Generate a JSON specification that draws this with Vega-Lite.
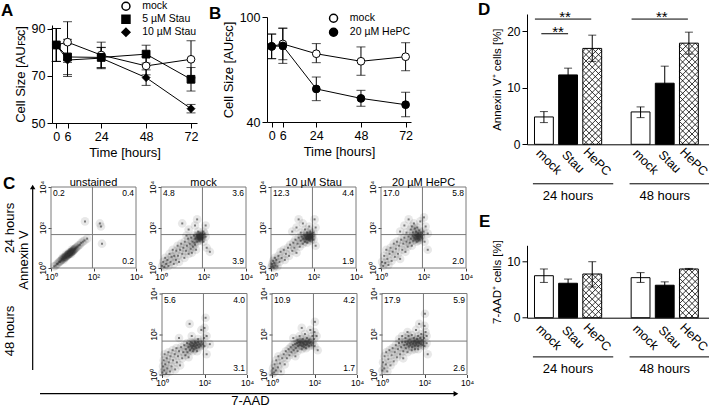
{
"$schema":"https://vega.github.io/schema/vega-lite/v6.json",
"background":"white",
"padding":0,
"spacing":4,
"resolve":{"scale":{"shape":"independent","fill":"independent"},"legend":{"shape":"independent","fill":"independent"}},
"datasets":{
"growthA":[
{"t":0,"s":"mock","v":83.2,"lo":76.2,"hi":90.2},{"t":6,"s":"mock","v":84.4,"lo":75.8,"hi":93.1},{"t":24,"s":"mock","v":78.9,"lo":73.4,"hi":84.4},{"t":48,"s":"mock","v":74.3,"lo":70.5,"hi":78.2},{"t":72,"s":"mock","v":77.1,"lo":69.2,"hi":85.0},
{"t":0,"s":"5 µM Stau","v":83.2,"lo":76.2,"hi":90.2},{"t":6,"s":"5 µM Stau","v":78.1,"lo":70.6,"hi":85.6},{"t":24,"s":"5 µM Stau","v":77.9,"lo":73.6,"hi":82.2},{"t":48,"s":"5 µM Stau","v":79.3,"lo":75.5,"hi":83.1},{"t":72,"s":"5 µM Stau","v":68.6,"lo":63.6,"hi":73.6},
{"t":0,"s":"10 µM Stau","v":83.2,"lo":76.2,"hi":90.2},{"t":6,"s":"10 µM Stau","v":76.8,"lo":69.8,"hi":83.6},{"t":24,"s":"10 µM Stau","v":77.6,"lo":73.1,"hi":82.1},{"t":48,"s":"10 µM Stau","v":69.3,"lo":66.0,"hi":72.6},{"t":72,"s":"10 µM Stau","v":56.1,"lo":54.3,"hi":57.9}],
"growthB":[
{"t":0,"s":"mock","v":83.2,"lo":76.2,"hi":90.3},{"t":6,"s":"mock","v":84.6,"lo":75.6,"hi":93.7},{"t":24,"s":"mock","v":79.0,"lo":73.9,"hi":84.8},{"t":48,"s":"mock","v":74.7,"lo":66.7,"hi":82.9},{"t":72,"s":"mock","v":77.3,"lo":69.3,"hi":85.3},
{"t":0,"s":"20 µM HePC","v":83.2,"lo":76.2,"hi":90.2},{"t":6,"s":"20 µM HePC","v":83.5,"lo":73.5,"hi":93.5},{"t":24,"s":"20 µM HePC","v":58.9,"lo":52.2,"hi":65.7},{"t":48,"s":"20 µM HePC","v":53.5,"lo":49.0,"hi":58.1},{"t":72,"s":"20 µM HePC","v":49.9,"lo":43.0,"hi":57.0}],
"annexin":[
{"cat":"24 hours|mock","treat":"mock","v":4.85,"lo":3.85,"hi":5.8},
{"cat":"24 hours|Stau","treat":"Stau","v":12.3,"lo":11.1,"hi":13.5},
{"cat":"24 hours|HePC","treat":"HePC","v":17.0,"lo":14.7,"hi":19.35},
{"cat":"48 hours|mock","treat":"mock","v":5.74,"lo":4.73,"hi":6.63},
{"cat":"48 hours|Stau","treat":"Stau","v":10.83,"lo":7.8,"hi":13.85},
{"cat":"48 hours|HePC","treat":"HePC","v":17.93,"lo":15.98,"hi":19.88}],
"aad":[
{"cat":"24 hours|mock","treat":"mock","v":7.5,"lo":6.3,"hi":8.7},
{"cat":"24 hours|Stau","treat":"Stau","v":6.15,"lo":5.4,"hi":6.9},
{"cat":"24 hours|HePC","treat":"HePC","v":7.8,"lo":5.5,"hi":10.0},
{"cat":"48 hours|mock","treat":"mock","v":7.15,"lo":6.3,"hi":8.05},
{"cat":"48 hours|Stau","treat":"Stau","v":5.8,"lo":5.2,"hi":6.4},
{"cat":"48 hours|HePC","treat":"HePC","v":8.7,"lo":8.6,"hi":8.8}],
"groups":[{"group":"24 hours","from":"24 hours|mock","to":"24 hours|HePC","mid":"24 hours|Stau"},{"group":"48 hours","from":"48 hours|mock","to":"48 hours|HePC","mid":"48 hours|Stau"}],
"sigTop":[{"from":"24 hours|mock","to":"24 hours|HePC","mid":"24 hours|Stau","label":"**"},{"from":"48 hours|mock","to":"48 hours|HePC","mid":"48 hours|Stau","label":"**"}],
"sigLow":[{"from":"24 hours|mock","to":"24 hours|Stau","label":"**"}],
"flow":[
{"k":"U24","q":"UL","v":"0.2","c":"unstained"},{"k":"U24","q":"UR","v":"0.4"},{"k":"U24","q":"LR","v":"0.2"},
{"k":"M24","q":"UL","v":"4.8","c":"mock"},{"k":"M24","q":"UR","v":"3.6"},{"k":"M24","q":"LR","v":"3.9"},
{"k":"S24","q":"UL","v":"12.3","c":"10 µM Stau"},{"k":"S24","q":"UR","v":"4.4"},{"k":"S24","q":"LR","v":"1.9"},
{"k":"H24","q":"UL","v":"17.0","c":"20 µM HePC"},{"k":"H24","q":"UR","v":"5.8"},{"k":"H24","q":"LR","v":"2.0"},
{"k":"M48","q":"UL","v":"5.6","c":"mock"},{"k":"M48","q":"UR","v":"4.0"},{"k":"M48","q":"LR","v":"3.1"},
{"k":"S48","q":"UL","v":"10.9","c":"10 µM Stau"},{"k":"S48","q":"UR","v":"4.2"},{"k":"S48","q":"LR","v":"1.7"},
{"k":"H48","q":"UL","v":"17.9","c":"20 µM HePC"},{"k":"H48","q":"UR","v":"5.9"},{"k":"H48","q":"LR","v":"2.6"},
{"k":"U24","x":0.15,"y":0.08},{"k":"U24","x":0.22,"y":0.12},{"k":"U24","x":0.28,"y":0.2},{"k":"U24","x":0.33,"y":0.22},{"k":"U24","x":0.38,"y":0.3},{"k":"U24","x":0.42,"y":0.3},{"k":"U24","x":0.45,"y":0.36},{"k":"U24","x":0.5,"y":0.38},{"k":"U24","x":0.52,"y":0.44},{"k":"U24","x":0.56,"y":0.45},{"k":"U24","x":0.6,"y":0.48},{"k":"U24","x":0.62,"y":0.52},{"k":"U24","x":0.65,"y":0.5},{"k":"U24","x":0.67,"y":0.56},{"k":"U24","x":0.7,"y":0.58},{"k":"U24","x":0.72,"y":0.55},{"k":"U24","x":0.74,"y":0.62},{"k":"U24","x":0.76,"y":0.6},{"k":"U24","x":0.78,"y":0.66},{"k":"U24","x":0.8,"y":0.64},{"k":"U24","x":0.82,"y":0.68},{"k":"U24","x":0.84,"y":0.7},{"k":"U24","x":0.86,"y":0.68},{"k":"U24","x":0.88,"y":0.74},{"k":"U24","x":0.9,"y":0.72},{"k":"U24","x":0.92,"y":0.78},{"k":"U24","x":0.94,"y":0.76},{"k":"U24","x":0.96,"y":0.8},{"k":"U24","x":0.98,"y":0.82},{"k":"U24","x":1.0,"y":0.8},{"k":"U24","x":1.02,"y":0.86},{"k":"U24","x":1.04,"y":0.84},{"k":"U24","x":1.06,"y":0.9},{"k":"U24","x":1.08,"y":0.88},{"k":"U24","x":1.1,"y":0.93},{"k":"U24","x":1.13,"y":0.95},{"k":"U24","x":1.16,"y":0.98},{"k":"U24","x":1.2,"y":1.02},{"k":"U24","x":1.25,"y":1.06},{"k":"U24","x":1.3,"y":1.12},{"k":"U24","x":1.36,"y":1.15},{"k":"U24","x":1.42,"y":1.24},{"k":"U24","x":1.5,"y":1.3},{"k":"U24","x":1.58,"y":1.36},{"k":"U24","x":0.55,"y":0.52},{"k":"U24","x":0.7,"y":0.66},{"k":"U24","x":0.85,"y":0.78},{"k":"U24","x":1.0,"y":0.92},{"k":"U24","x":0.6,"y":0.4},{"k":"U24","x":0.95,"y":0.7},{"k":"U24","x":1.6,"y":2.3},{"k":"U24","x":2.3,"y":2.2},{"k":"U24","x":2.35,"y":2.05},{"k":"U24","x":2.4,"y":1.2},{"k":"U24","x":1.7,"y":1.45},
{"k":"M24","x":0.05,"y":0.1},{"k":"M24","x":0.1,"y":0.3},{"k":"M24","x":0.15,"y":0.05},{"k":"M24","x":0.2,"y":0.5},{"k":"M24","x":0.25,"y":0.2},{"k":"M24","x":0.3,"y":0.4},{"k":"M24","x":0.35,"y":0.1},{"k":"M24","x":0.4,"y":0.7},{"k":"M24","x":0.45,"y":0.3},{"k":"M24","x":0.5,"y":0.55},{"k":"M24","x":0.55,"y":0.9},{"k":"M24","x":0.6,"y":0.2},{"k":"M24","x":0.62,"y":0.6},{"k":"M24","x":0.7,"y":0.4},{"k":"M24","x":0.72,"y":0.85},{"k":"M24","x":0.78,"y":1.1},{"k":"M24","x":0.8,"y":0.6},{"k":"M24","x":0.85,"y":0.3},{"k":"M24","x":0.9,"y":0.9},{"k":"M24","x":0.95,"y":1.2},{"k":"M24","x":1.0,"y":0.7},{"k":"M24","x":1.05,"y":1.0},{"k":"M24","x":1.1,"y":0.5},{"k":"M24","x":1.12,"y":1.3},{"k":"M24","x":1.18,"y":0.85},{"k":"M24","x":1.22,"y":1.1},{"k":"M24","x":1.28,"y":1.45},{"k":"M24","x":1.3,"y":0.7},{"k":"M24","x":1.35,"y":1.2},{"k":"M24","x":1.4,"y":0.95},{"k":"M24","x":1.42,"y":1.5},{"k":"M24","x":1.48,"y":1.3},{"k":"M24","x":1.5,"y":1.05},{"k":"M24","x":1.55,"y":1.6},{"k":"M24","x":1.58,"y":1.25},{"k":"M24","x":1.62,"y":1.45},{"k":"M24","x":1.65,"y":0.9},{"k":"M24","x":1.68,"y":1.55},{"k":"M24","x":1.7,"y":1.3},{"k":"M24","x":1.72,"y":1.62},{"k":"M24","x":1.75,"y":1.45},{"k":"M24","x":1.78,"y":1.55},{"k":"M24","x":1.8,"y":1.35},{"k":"M24","x":1.82,"y":1.6},{"k":"M24","x":1.84,"y":1.5},{"k":"M24","x":1.86,"y":1.64},{"k":"M24","x":1.87,"y":1.42},{"k":"M24","x":1.88,"y":1.58},{"k":"M24","x":1.9,"y":1.52},{"k":"M24","x":1.91,"y":1.62},{"k":"M24","x":1.92,"y":1.45},{"k":"M24","x":1.93,"y":1.56},{"k":"M24","x":1.85,"y":1.56},{"k":"M24","x":1.8,"y":1.48},{"k":"M24","x":1.76,"y":1.6},{"k":"M24","x":1.6,"y":1.15},{"k":"M24","x":1.45,"y":0.75},{"k":"M24","x":1.2,"y":1.6},{"k":"M24","x":1.3,"y":1.9},{"k":"M24","x":1.6,"y":2.1},{"k":"M24","x":1.75,"y":1.8},{"k":"M24","x":1.0,"y":2.2},{"k":"M24","x":1.7,"y":2.4},{"k":"M24","x":2.0,"y":1.8},{"k":"M24","x":2.1,"y":2.1},{"k":"M24","x":2.05,"y":1.7},{"k":"M24","x":2.0,"y":1.3},{"k":"M24","x":2.15,"y":1.0},{"k":"M24","x":2.1,"y":1.55},{"k":"M24","x":2.3,"y":0.8},
{"k":"S24","x":0.02,"y":0.05},{"k":"S24","x":0.05,"y":0.2},{"k":"S24","x":0.08,"y":0.1},{"k":"S24","x":0.1,"y":0.35},{"k":"S24","x":0.12,"y":0.02},{"k":"S24","x":0.15,"y":0.25},{"k":"S24","x":0.18,"y":0.5},{"k":"S24","x":0.2,"y":0.12},{"k":"S24","x":0.25,"y":0.4},{"k":"S24","x":0.3,"y":0.08},{"k":"S24","x":0.35,"y":0.6},{"k":"S24","x":0.4,"y":0.3},{"k":"S24","x":0.45,"y":0.8},{"k":"S24","x":0.5,"y":0.5},{"k":"S24","x":0.6,"y":0.9},{"k":"S24","x":0.65,"y":0.4},{"k":"S24","x":0.7,"y":0.7},{"k":"S24","x":0.8,"y":1.0},{"k":"S24","x":0.85,"y":0.6},{"k":"S24","x":0.9,"y":1.15},{"k":"S24","x":1.0,"y":0.85},{"k":"S24","x":1.05,"y":1.25},{"k":"S24","x":1.1,"y":1.0},{"k":"S24","x":1.15,"y":1.4},{"k":"S24","x":1.2,"y":0.75},{"k":"S24","x":1.25,"y":1.2},{"k":"S24","x":1.3,"y":1.5},{"k":"S24","x":1.35,"y":1.05},{"k":"S24","x":1.4,"y":1.35},{"k":"S24","x":1.45,"y":1.55},{"k":"S24","x":1.5,"y":1.2},{"k":"S24","x":1.52,"y":1.45},{"k":"S24","x":1.56,"y":1.6},{"k":"S24","x":1.6,"y":1.3},{"k":"S24","x":1.62,"y":1.5},{"k":"S24","x":1.66,"y":1.42},{"k":"S24","x":1.68,"y":1.6},{"k":"S24","x":1.7,"y":1.25},{"k":"S24","x":1.72,"y":1.52},{"k":"S24","x":1.75,"y":1.62},{"k":"S24","x":1.78,"y":1.4},{"k":"S24","x":1.8,"y":1.55},{"k":"S24","x":1.82,"y":1.48},{"k":"S24","x":1.84,"y":1.6},{"k":"S24","x":1.86,"y":1.35},{"k":"S24","x":1.88,"y":1.52},{"k":"S24","x":1.9,"y":1.6},{"k":"S24","x":1.92,"y":1.45},{"k":"S24","x":1.94,"y":1.55},{"k":"S24","x":1.78,"y":1.58},{"k":"S24","x":1.7,"y":1.45},{"k":"S24","x":1.0,"y":1.8},{"k":"S24","x":1.2,"y":2.0},{"k":"S24","x":1.4,"y":1.75},{"k":"S24","x":1.5,"y":2.2},{"k":"S24","x":1.6,"y":1.9},{"k":"S24","x":1.7,"y":1.75},{"k":"S24","x":1.8,"y":2.05},{"k":"S24","x":1.85,"y":1.8},{"k":"S24","x":1.9,"y":1.7},{"k":"S24","x":1.3,"y":2.4},{"k":"S24","x":2.0,"y":1.75},{"k":"S24","x":2.1,"y":2.0},{"k":"S24","x":2.05,"y":2.4},{"k":"S24","x":2.0,"y":1.4},{"k":"S24","x":2.1,"y":1.1},
{"k":"H24","x":0.05,"y":0.3},{"k":"H24","x":0.1,"y":0.1},{"k":"H24","x":0.15,"y":0.6},{"k":"H24","x":0.2,"y":0.25},{"k":"H24","x":0.25,"y":0.9},{"k":"H24","x":0.3,"y":0.45},{"k":"H24","x":0.35,"y":0.15},{"k":"H24","x":0.4,"y":0.7},{"k":"H24","x":0.45,"y":1.0},{"k":"H24","x":0.5,"y":0.35},{"k":"H24","x":0.55,"y":0.8},{"k":"H24","x":0.6,"y":1.2},{"k":"H24","x":0.65,"y":0.55},{"k":"H24","x":0.7,"y":0.95},{"k":"H24","x":0.75,"y":1.3},{"k":"H24","x":0.8,"y":0.7},{"k":"H24","x":0.85,"y":1.1},{"k":"H24","x":0.9,"y":0.45},{"k":"H24","x":0.95,"y":1.4},{"k":"H24","x":1.0,"y":0.9},{"k":"H24","x":1.05,"y":1.2},{"k":"H24","x":1.1,"y":1.5},{"k":"H24","x":1.15,"y":0.8},{"k":"H24","x":1.2,"y":1.3},{"k":"H24","x":1.25,"y":1.05},{"k":"H24","x":1.3,"y":1.55},{"k":"H24","x":1.35,"y":1.25},{"k":"H24","x":1.4,"y":1.45},{"k":"H24","x":1.45,"y":1.1},{"k":"H24","x":1.5,"y":1.6},{"k":"H24","x":1.52,"y":1.35},{"k":"H24","x":1.56,"y":1.5},{"k":"H24","x":1.6,"y":1.62},{"k":"H24","x":1.62,"y":1.4},{"k":"H24","x":1.66,"y":1.55},{"k":"H24","x":1.7,"y":1.6},{"k":"H24","x":1.72,"y":1.45},{"k":"H24","x":1.75,"y":1.58},{"k":"H24","x":1.78,"y":1.5},{"k":"H24","x":1.8,"y":1.62},{"k":"H24","x":1.82,"y":1.4},{"k":"H24","x":1.85,"y":1.55},{"k":"H24","x":1.88,"y":1.6},{"k":"H24","x":1.9,"y":1.5},{"k":"H24","x":1.76,"y":1.35},{"k":"H24","x":1.68,"y":1.3},{"k":"H24","x":0.9,"y":1.8},{"k":"H24","x":1.1,"y":2.1},{"k":"H24","x":1.2,"y":1.75},{"k":"H24","x":1.3,"y":2.4},{"k":"H24","x":1.4,"y":1.9},{"k":"H24","x":1.5,"y":1.75},{"k":"H24","x":1.55,"y":2.2},{"k":"H24","x":1.65,"y":1.8},{"k":"H24","x":1.7,"y":2.0},{"k":"H24","x":1.75,"y":1.72},{"k":"H24","x":1.8,"y":1.85},{"k":"H24","x":1.85,"y":2.3},{"k":"H24","x":1.88,"y":1.75},{"k":"H24","x":1.6,"y":1.95},{"k":"H24","x":1.45,"y":2.05},{"k":"H24","x":2.0,"y":1.8},{"k":"H24","x":2.1,"y":2.05},{"k":"H24","x":2.02,"y":2.5},{"k":"H24","x":2.2,"y":1.7},{"k":"H24","x":2.05,"y":1.3},{"k":"H24","x":2.2,"y":0.9},
{"k":"M48","x":0.02,"y":0.1},{"k":"M48","x":0.05,"y":0.4},{"k":"M48","x":0.08,"y":0.7},{"k":"M48","x":0.1,"y":0.2},{"k":"M48","x":0.12,"y":1.0},{"k":"M48","x":0.15,"y":0.5},{"k":"M48","x":0.2,"y":0.05},{"k":"M48","x":0.22,"y":0.8},{"k":"M48","x":0.25,"y":0.3},{"k":"M48","x":0.3,"y":1.1},{"k":"M48","x":0.32,"y":0.6},{"k":"M48","x":0.38,"y":0.15},{"k":"M48","x":0.4,"y":0.9},{"k":"M48","x":0.45,"y":0.4},{"k":"M48","x":0.5,"y":1.2},{"k":"M48","x":0.52,"y":0.7},{"k":"M48","x":0.6,"y":1.0},{"k":"M48","x":0.62,"y":0.25},{"k":"M48","x":0.68,"y":1.3},{"k":"M48","x":0.7,"y":0.6},{"k":"M48","x":0.75,"y":0.9},{"k":"M48","x":0.8,"y":1.15},{"k":"M48","x":0.85,"y":0.45},{"k":"M48","x":0.9,"y":1.35},{"k":"M48","x":0.95,"y":0.8},{"k":"M48","x":1.0,"y":1.1},{"k":"M48","x":1.05,"y":1.45},{"k":"M48","x":1.1,"y":0.95},{"k":"M48","x":1.12,"y":1.25},{"k":"M48","x":1.18,"y":1.55},{"k":"M48","x":1.2,"y":1.1},{"k":"M48","x":1.25,"y":1.35},{"k":"M48","x":1.3,"y":1.5},{"k":"M48","x":1.32,"y":1.2},{"k":"M48","x":1.36,"y":1.42},{"k":"M48","x":1.4,"y":1.3},{"k":"M48","x":1.42,"y":1.55},{"k":"M48","x":1.46,"y":1.4},{"k":"M48","x":1.5,"y":1.25},{"k":"M48","x":1.52,"y":1.5},{"k":"M48","x":1.56,"y":1.38},{"k":"M48","x":1.6,"y":1.55},{"k":"M48","x":1.62,"y":1.3},{"k":"M48","x":1.66,"y":1.45},{"k":"M48","x":1.7,"y":1.6},{"k":"M48","x":1.74,"y":1.35},{"k":"M48","x":1.78,"y":1.5},{"k":"M48","x":1.82,"y":1.42},{"k":"M48","x":1.86,"y":1.6},{"k":"M48","x":1.9,"y":1.5},{"k":"M48","x":1.45,"y":1.15},{"k":"M48","x":1.35,"y":1.6},{"k":"M48","x":1.25,"y":0.85},{"k":"M48","x":1.55,"y":1.6},{"k":"M48","x":1.65,"y":1.15},{"k":"M48","x":0.8,"y":1.8},{"k":"M48","x":1.4,"y":1.9},{"k":"M48","x":1.7,"y":1.75},{"k":"M48","x":1.85,"y":2.2},{"k":"M48","x":1.3,"y":2.5},{"k":"M48","x":1.98,"y":1.8},{"k":"M48","x":2.0,"y":2.3},{"k":"M48","x":2.05,"y":2.8},{"k":"M48","x":2.1,"y":1.9},{"k":"M48","x":2.0,"y":1.4},{"k":"M48","x":2.1,"y":1.0},{"k":"M48","x":2.25,"y":1.5},
{"k":"S48","x":0.02,"y":0.05},{"k":"S48","x":0.05,"y":0.3},{"k":"S48","x":0.1,"y":0.1},{"k":"S48","x":0.12,"y":0.5},{"k":"S48","x":0.18,"y":0.2},{"k":"S48","x":0.2,"y":0.7},{"k":"S48","x":0.28,"y":0.35},{"k":"S48","x":0.3,"y":0.9},{"k":"S48","x":0.38,"y":0.55},{"k":"S48","x":0.42,"y":0.15},{"k":"S48","x":0.48,"y":0.8},{"k":"S48","x":0.55,"y":1.0},{"k":"S48","x":0.6,"y":0.5},{"k":"S48","x":0.65,"y":1.15},{"k":"S48","x":0.7,"y":0.8},{"k":"S48","x":0.78,"y":1.25},{"k":"S48","x":0.82,"y":0.95},{"k":"S48","x":0.88,"y":1.35},{"k":"S48","x":0.92,"y":1.1},{"k":"S48","x":0.98,"y":1.45},{"k":"S48","x":1.02,"y":1.2},{"k":"S48","x":1.08,"y":1.5},{"k":"S48","x":1.12,"y":1.3},{"k":"S48","x":1.18,"y":1.55},{"k":"S48","x":1.22,"y":1.4},{"k":"S48","x":1.26,"y":1.6},{"k":"S48","x":1.3,"y":1.45},{"k":"S48","x":1.34,"y":1.55},{"k":"S48","x":1.38,"y":1.62},{"k":"S48","x":1.42,"y":1.4},{"k":"S48","x":1.46,"y":1.58},{"k":"S48","x":1.5,"y":1.5},{"k":"S48","x":1.54,"y":1.62},{"k":"S48","x":1.58,"y":1.45},{"k":"S48","x":1.62,"y":1.58},{"k":"S48","x":1.66,"y":1.5},{"k":"S48","x":1.7,"y":1.62},{"k":"S48","x":1.74,"y":1.4},{"k":"S48","x":1.78,"y":1.55},{"k":"S48","x":1.82,"y":1.6},{"k":"S48","x":1.86,"y":1.45},{"k":"S48","x":1.9,"y":1.55},{"k":"S48","x":1.6,"y":1.3},{"k":"S48","x":1.4,"y":1.25},{"k":"S48","x":1.2,"y":1.15},{"k":"S48","x":1.5,"y":1.35},{"k":"S48","x":1.3,"y":1.62},{"k":"S48","x":1.1,"y":0.9},{"k":"S48","x":1.0,"y":1.8},{"k":"S48","x":1.2,"y":1.7},{"k":"S48","x":1.3,"y":1.9},{"k":"S48","x":1.45,"y":1.75},{"k":"S48","x":1.55,"y":2.0},{"k":"S48","x":1.65,"y":1.8},{"k":"S48","x":1.75,"y":1.72},{"k":"S48","x":1.8,"y":2.2},{"k":"S48","x":1.9,"y":1.9},{"k":"S48","x":1.4,"y":2.3},{"k":"S48","x":1.98,"y":1.75},{"k":"S48","x":2.0,"y":2.1},{"k":"S48","x":2.02,"y":2.6},{"k":"S48","x":2.1,"y":1.9},{"k":"S48","x":2.0,"y":1.4},{"k":"S48","x":2.15,"y":1.2},
{"k":"H48","x":0.02,"y":0.2},{"k":"H48","x":0.05,"y":0.6},{"k":"H48","x":0.1,"y":0.3},{"k":"H48","x":0.12,"y":0.9},{"k":"H48","x":0.18,"y":0.5},{"k":"H48","x":0.2,"y":1.1},{"k":"H48","x":0.25,"y":0.15},{"k":"H48","x":0.3,"y":0.75},{"k":"H48","x":0.35,"y":1.2},{"k":"H48","x":0.4,"y":0.45},{"k":"H48","x":0.45,"y":0.95},{"k":"H48","x":0.5,"y":1.3},{"k":"H48","x":0.55,"y":0.65},{"k":"H48","x":0.6,"y":1.1},{"k":"H48","x":0.65,"y":1.45},{"k":"H48","x":0.7,"y":0.85},{"k":"H48","x":0.75,"y":1.25},{"k":"H48","x":0.8,"y":1.55},{"k":"H48","x":0.85,"y":1.0},{"k":"H48","x":0.9,"y":1.35},{"k":"H48","x":0.95,"y":1.6},{"k":"H48","x":1.0,"y":1.15},{"k":"H48","x":1.05,"y":1.45},{"k":"H48","x":1.1,"y":1.6},{"k":"H48","x":1.12,"y":1.3},{"k":"H48","x":1.18,"y":1.5},{"k":"H48","x":1.22,"y":1.62},{"k":"H48","x":1.26,"y":1.38},{"k":"H48","x":1.3,"y":1.55},{"k":"H48","x":1.34,"y":1.45},{"k":"H48","x":1.38,"y":1.6},{"k":"H48","x":1.42,"y":1.35},{"k":"H48","x":1.46,"y":1.52},{"k":"H48","x":1.5,"y":1.62},{"k":"H48","x":1.54,"y":1.42},{"k":"H48","x":1.58,"y":1.56},{"k":"H48","x":1.62,"y":1.48},{"k":"H48","x":1.66,"y":1.6},{"k":"H48","x":1.7,"y":1.4},{"k":"H48","x":1.74,"y":1.55},{"k":"H48","x":1.78,"y":1.62},{"k":"H48","x":1.82,"y":1.5},{"k":"H48","x":1.86,"y":1.58},{"k":"H48","x":1.9,"y":1.45},{"k":"H48","x":1.4,"y":1.2},{"k":"H48","x":1.2,"y":1.1},{"k":"H48","x":1.55,"y":1.25},{"k":"H48","x":1.0,"y":0.8},{"k":"H48","x":1.7,"y":1.25},{"k":"H48","x":0.8,"y":1.75},{"k":"H48","x":0.95,"y":1.9},{"k":"H48","x":1.1,"y":1.8},{"k":"H48","x":1.2,"y":2.1},{"k":"H48","x":1.3,"y":1.72},{"k":"H48","x":1.4,"y":1.95},{"k":"H48","x":1.5,"y":1.8},{"k":"H48","x":1.6,"y":2.2},{"k":"H48","x":1.65,"y":1.75},{"k":"H48","x":1.7,"y":1.9},{"k":"H48","x":1.75,"y":2.5},{"k":"H48","x":1.8,"y":1.8},{"k":"H48","x":1.85,"y":2.0},{"k":"H48","x":1.88,"y":1.7},{"k":"H48","x":1.55,"y":1.68},{"k":"H48","x":1.25,"y":1.9},{"k":"H48","x":1.98,"y":1.8},{"k":"H48","x":2.0,"y":2.4},{"k":"H48","x":2.02,"y":3.0},{"k":"H48","x":2.1,"y":1.9},{"k":"H48","x":2.05,"y":2.1},{"k":"H48","x":2.0,"y":1.4},{"k":"H48","x":2.15,"y":1.0},{"k":"H48","x":2.1,"y":1.55}
]},
"hconcat":[
{"resolve":{"scale":{"shape":"independent","fill":"independent"},"legend":{"shape":"independent","fill":"independent"}},
 "vconcat":[
 {"resolve":{"scale":{"shape":"independent","fill":"independent"},"legend":{"shape":"independent","fill":"independent"}},
  "hconcat":[
  {"width":13,"height":109,"data":{"values":[{}]},"mark":{"type":"text","fontSize":17,"fontWeight":"bold","align":"left","baseline":"alphabetic","color":"#000"},
   "encoding":{"x":{"datum":0.077,"type":"quantitative","scale":{"domain":[0,1],"nice":false,"zero":false},"axis":null},"y":{"datum":0.982,"type":"quantitative","scale":{"domain":[0,1],"nice":false,"zero":false},"axis":null},"text":{"value":"A"}}},
  {"resolve":{"scale":{"shape":"independent","fill":"independent"},"legend":{"shape":"independent","fill":"independent"}},
   "hconcat":[
   {"width":145,"height":109,
    "data":{"name":"growthA"},
    "encoding":{"x":{"field":"t","type":"quantitative","scale":{"domain":[-2.3,75.2],"nice":false,"zero":false},"axis":{"values":[0,6,24,48,72],"title":"Time [hours]","labelFlush":false}}},
    "layer":[
     {"mark":{"type":"rule","color":"#000","strokeWidth":1},"encoding":{"y":{"field":"lo","type":"quantitative","scale":{"domain":[50,91.7],"range":[109,11],"nice":false,"zero":false},"axis":{"values":[50,60,70,80,90],"title":"Cell Size [AUꜰꜱᴄ]"}},"y2":{"field":"hi"}}},
     {"mark":{"type":"tick","orient":"horizontal","size":9,"thickness":1,"color":"#000"},"encoding":{"y":{"field":"lo","type":"quantitative"}}},
     {"mark":{"type":"tick","orient":"horizontal","size":9,"thickness":1,"color":"#000"},"encoding":{"y":{"field":"hi","type":"quantitative"}}},
     {"mark":{"type":"line","color":"#000","strokeWidth":1},"encoding":{"y":{"field":"v","type":"quantitative"},"detail":{"field":"s","type":"nominal"}}},
     {"mark":{"type":"point","filled":true,"stroke":"#000","strokeWidth":1,"size":60,"opacity":1},"encoding":{"y":{"field":"v","type":"quantitative"},
      "shape":{"field":"s","type":"nominal","scale":{"domain":["mock","5 µM Stau","10 µM Stau"],"range":["circle","square","diamond"]},
       "legend":{"title":null,"orient":"none","legendX":68.7,"legendY":-13,"padding":0,"symbolSize":64,"labelFontSize":10.5,"labelOffset":11,"rowPadding":-2.2,"labelColor":"#000",
        "encode":{"symbols":{"fill":{"value":{"expr":"datum.value === 'mock' ? '#fff' : '#000'"}},"stroke":{"value":"#000"},"strokeWidth":{"value":1},"opacity":{"value":1}}}}},
      "fill":{"field":"s","type":"nominal","scale":{"domain":["mock","5 µM Stau","10 µM Stau"],"range":["#fff","#000","#000"]},"legend":null}}}
    ]},
   {"hconcat":[
    {"width":23,"height":108,"data":{"values":[{}]},"mark":{"type":"text","fontSize":17,"fontWeight":"bold","align":"left","baseline":"alphabetic","color":"#000"},
     "encoding":{"x":{"datum":0.478,"type":"quantitative","scale":{"domain":[0,1],"nice":false,"zero":false},"axis":null},"y":{"datum":0.951,"type":"quantitative","scale":{"domain":[0,1],"nice":false,"zero":false},"axis":null},"text":{"value":"B"}}},
    {"width":144,"height":108,
     "data":{"name":"growthB"},
     "encoding":{"x":{"field":"t","type":"quantitative","scale":{"domain":[-2.5,74.9],"nice":false,"zero":false},"axis":{"values":[0,6,24,48,72],"title":"Time [hours]","labelFlush":false}}},
     "layer":[
      {"mark":{"type":"rule","color":"#000","strokeWidth":1},"encoding":{"y":{"field":"lo","type":"quantitative","scale":{"domain":[40,100],"range":[108,3],"nice":false,"zero":false},"axis":{"values":[40,50,60,70,80,90,100],"title":"Cell Size [AUꜰꜱᴄ]"}},"y2":{"field":"hi"}}},
      {"mark":{"type":"tick","orient":"horizontal","size":9,"thickness":1,"color":"#000"},"encoding":{"y":{"field":"lo","type":"quantitative"}}},
      {"mark":{"type":"tick","orient":"horizontal","size":9,"thickness":1,"color":"#000"},"encoding":{"y":{"field":"hi","type":"quantitative"}}},
      {"mark":{"type":"line","color":"#000","strokeWidth":1},"encoding":{"y":{"field":"v","type":"quantitative"},"detail":{"field":"s","type":"nominal"}}},
      {"mark":{"type":"point","filled":true,"stroke":"#000","strokeWidth":1,"size":60,"opacity":1},"encoding":{"y":{"field":"v","type":"quantitative"},
       "shape":{"field":"s","type":"nominal","scale":{"domain":["mock","20 µM HePC"],"range":["circle","circle"]},
        "legend":{"title":null,"orient":"none","legendX":130.3,"legendY":-1,"padding":0,"symbolSize":64,"labelFontSize":10.5,"labelOffset":11,"rowPadding":-1,"labelColor":"#000",
         "encode":{"symbols":{"fill":{"value":{"expr":"datum.value === 'mock' ? '#fff' : '#000'"}},"stroke":{"value":"#000"},"strokeWidth":{"value":1},"opacity":{"value":1}}}}},
       "fill":{"field":"s","type":"nominal","scale":{"domain":["mock","20 µM HePC"],"range":["#fff","#000"]},"legend":null}}}
     ]}
   ],"spacing":0}
  ],"spacing":0}
 ],"spacing":0},
 {"hconcat":[
  {"width":38,"height":185,
   "title":{"text":"C","dx":3,"offset":-8},
   "data":{"values":[{}]},
   "layer":[
    {"mark":{"type":"text","angle":270,"fontSize":13,"baseline":"middle","align":"center","color":"#000"},"encoding":{"x":{"datum":0.263,"type":"quantitative","scale":{"domain":[0,1],"nice":false,"zero":false},"axis":null},"y":{"datum":0.778,"type":"quantitative","scale":{"domain":[0,1],"nice":false,"zero":false},"axis":null},"text":{"value":"24 hours"}}},
    {"mark":{"type":"text","angle":270,"fontSize":13,"baseline":"middle","align":"center","color":"#000"},"encoding":{"x":{"datum":0.263,"type":"quantitative","axis":null},"y":{"datum":0.222,"type":"quantitative","axis":null},"text":{"value":"48 hours"}}},
    {"mark":{"type":"text","angle":270,"fontSize":13,"baseline":"middle","align":"center","color":"#000"},"encoding":{"x":{"datum":0.63,"type":"quantitative","axis":null},"y":{"datum":0.605,"type":"quantitative","axis":null},"text":{"value":"Annexin V"}}},
    {"mark":{"type":"rule","color":"#000","strokeWidth":1.2},"encoding":{"x":{"datum":0.86,"type":"quantitative","axis":null},"y":{"datum":0.011,"type":"quantitative","axis":null},"y2":{"datum":0.995}}},
    {"mark":{"type":"point","shape":"triangle-up","filled":true,"color":"#000","size":30,"opacity":1},"encoding":{"x":{"datum":0.86,"type":"quantitative","axis":null},"y":{"datum":1.0,"type":"quantitative","axis":null}}}
   ]},
  {"vconcat":[
   {"vconcat":[
    {"data":{"name":"flow"},
     "transform":[{"filter":{"field":"k","oneOf":["U24","M24","S24","H24"]}}],
     "facet":{"column":{"field":"k","type":"nominal","sort":["U24","M24","S24","H24"],"header":null}},
     "spacing":5,
     "resolve":{"axis":{"x":"independent","y":"independent"}},
     "spec":{"width":85,"height":81,"layer":[
      {"transform":[{"filter":"datum.q == 'UL'"}],"mark":{"type":"rect","fill":"#fff","fillOpacity":0,"stroke":"#7a7a7a","strokeWidth":1},
       "encoding":{"x":{"datum":0,"type":"quantitative","scale":{"domain":[0,4],"nice":false,"zero":false},
         "axis":{"values":[0,1,2,3,4],"labelExpr":"datum.value == 0 ? '10⁰' : datum.value == 1 ? '10¹' : datum.value == 2 ? '10²' : datum.value == 3 ? '10³' : '10⁴'","labelFlush":false,"labelOverlap":false,"domain":false,"tickSize":3,"tickColor":"#444","labelFontSize":8.5,"labelPadding":1,"title":null}},
        "x2":{"datum":4},
        "y":{"datum":0,"type":"quantitative","scale":{"domain":[0,4],"nice":false,"zero":false},
         "axis":{"values":[0,1,2,3,4],"labelExpr":"datum.value == 0 ? '10⁰' : datum.value == 1 ? '10¹' : datum.value == 2 ? '10²' : datum.value == 3 ? '10³' : '10⁴'","labelFlush":false,"labelOverlap":false,"domain":false,"tickSize":3,"tickColor":"#444","labelFontSize":8.5,"labelPadding":1,"labelAngle":-90,"labelAlign":"center","labelBaseline":"bottom","title":null}},
        "y2":{"datum":4}}},
      {"transform":[{"filter":"datum.q == 'UL'"}],"mark":{"type":"rule","color":"#7a7a7a","strokeWidth":1},"encoding":{"x":{"datum":1.95,"type":"quantitative"}}},
      {"transform":[{"filter":"datum.q == 'UL'"}],"mark":{"type":"rule","color":"#7a7a7a","strokeWidth":1},"encoding":{"y":{"datum":1.65,"type":"quantitative"}}},
      {"transform":[{"filter":"isValid(datum.x)"}],"mark":{"type":"circle","size":75,"opacity":0.09,"color":"#000"},"encoding":{"x":{"field":"x","type":"quantitative"},"y":{"field":"y","type":"quantitative"}}},
      {"transform":[{"filter":"isValid(datum.x)"}],"mark":{"type":"square","size":4,"opacity":0.6,"color":"#333"},"encoding":{"x":{"field":"x","type":"quantitative"},"y":{"field":"y","type":"quantitative"}}},
      {"transform":[{"filter":"datum.q == 'UL'"}],"mark":{"type":"text","fontSize":8.5,"align":"left","baseline":"top","dx":2,"dy":2,"color":"#000"},"encoding":{"x":{"datum":0,"type":"quantitative"},"y":{"datum":4,"type":"quantitative"},"text":{"field":"v"}}},
      {"transform":[{"filter":"datum.q == 'UR'"}],"mark":{"type":"text","fontSize":8.5,"align":"right","baseline":"top","dx":-2,"dy":2,"color":"#000"},"encoding":{"x":{"datum":4,"type":"quantitative"},"y":{"datum":4,"type":"quantitative"},"text":{"field":"v"}}},
      {"transform":[{"filter":"datum.q == 'LR'"}],"mark":{"type":"text","fontSize":8.5,"align":"right","baseline":"bottom","dx":-2,"dy":-2,"color":"#000"},"encoding":{"x":{"datum":4,"type":"quantitative"},"y":{"datum":0,"type":"quantitative"},"text":{"field":"v"}}},
      {"transform":[{"filter":"datum.q == 'UL'"}],"mark":{"type":"text","fontSize":11,"align":"center","baseline":"bottom","dy":1,"color":"#000"},"encoding":{"x":{"datum":2,"type":"quantitative"},"y":{"datum":4,"type":"quantitative"},"text":{"field":"c"}}}
     ]}},
    {"hconcat":[
     {"width":85,"height":81,"data":{"values":[]},"mark":"point","encoding":{}},
     {"data":{"name":"flow"},
      "transform":[{"filter":{"field":"k","oneOf":["M48","S48","H48"]}}],
      "facet":{"column":{"field":"k","type":"nominal","sort":["M48","S48","H48"],"header":null}},
      "spacing":5,
      "resolve":{"axis":{"x":"independent","y":"independent"}},
      "spec":{"width":85,"height":81,"layer":[
       {"transform":[{"filter":"datum.q == 'UL'"}],"mark":{"type":"rect","fill":"#fff","fillOpacity":0,"stroke":"#7a7a7a","strokeWidth":1},
        "encoding":{"x":{"datum":0,"type":"quantitative","scale":{"domain":[0,4],"nice":false,"zero":false},
          "axis":{"values":[0,1,2,3,4],"labelExpr":"datum.value == 0 ? '10⁰' : datum.value == 1 ? '10¹' : datum.value == 2 ? '10²' : datum.value == 3 ? '10³' : '10⁴'","labelFlush":false,"labelOverlap":false,"domain":false,"tickSize":3,"tickColor":"#444","labelFontSize":8.5,"labelPadding":1,"title":null}},
         "x2":{"datum":4},
         "y":{"datum":0,"type":"quantitative","scale":{"domain":[0,4],"nice":false,"zero":false},
          "axis":{"values":[0,1,2,3,4],"labelExpr":"datum.value == 0 ? '10⁰' : datum.value == 1 ? '10¹' : datum.value == 2 ? '10²' : datum.value == 3 ? '10³' : '10⁴'","labelFlush":false,"labelOverlap":false,"domain":false,"tickSize":3,"tickColor":"#444","labelFontSize":8.5,"labelPadding":1,"labelAngle":-90,"labelAlign":"center","labelBaseline":"bottom","title":null}},
         "y2":{"datum":4}}},
       {"transform":[{"filter":"datum.q == 'UL'"}],"mark":{"type":"rule","color":"#7a7a7a","strokeWidth":1},"encoding":{"x":{"datum":1.95,"type":"quantitative"}}},
       {"transform":[{"filter":"datum.q == 'UL'"}],"mark":{"type":"rule","color":"#7a7a7a","strokeWidth":1},"encoding":{"y":{"datum":1.65,"type":"quantitative"}}},
       {"transform":[{"filter":"isValid(datum.x)"}],"mark":{"type":"circle","size":75,"opacity":0.09,"color":"#000"},"encoding":{"x":{"field":"x","type":"quantitative"},"y":{"field":"y","type":"quantitative"}}},
       {"transform":[{"filter":"isValid(datum.x)"}],"mark":{"type":"square","size":4,"opacity":0.6,"color":"#333"},"encoding":{"x":{"field":"x","type":"quantitative"},"y":{"field":"y","type":"quantitative"}}},
       {"transform":[{"filter":"datum.q == 'UL'"}],"mark":{"type":"text","fontSize":8.5,"align":"left","baseline":"top","dx":2,"dy":2,"color":"#000"},"encoding":{"x":{"datum":0,"type":"quantitative"},"y":{"datum":4,"type":"quantitative"},"text":{"field":"v"}}},
       {"transform":[{"filter":"datum.q == 'UR'"}],"mark":{"type":"text","fontSize":8.5,"align":"right","baseline":"top","dx":-2,"dy":2,"color":"#000"},"encoding":{"x":{"datum":4,"type":"quantitative"},"y":{"datum":4,"type":"quantitative"},"text":{"field":"v"}}},
       {"transform":[{"filter":"datum.q == 'LR'"}],"mark":{"type":"text","fontSize":8.5,"align":"right","baseline":"bottom","dx":-2,"dy":-2,"color":"#000"},"encoding":{"x":{"datum":4,"type":"quantitative"},"y":{"datum":0,"type":"quantitative"},"text":{"field":"v"}}}
      ]}}
    ],"spacing":13}
   ],"spacing":5.5},
   {"width":407,"height":2,
    "data":{"values":[{}]},
    "layer":[
     {"mark":{"type":"rule","color":"#000","strokeWidth":1.2},"encoding":{"x":{"datum":-0.027,"type":"quantitative","scale":{"domain":[0,1],"nice":false,"zero":false},"axis":null},"x2":{"datum":0.995},"y":{"datum":0.5,"type":"quantitative","scale":{"domain":[0,1],"nice":false,"zero":false},"axis":null}}},
     {"mark":{"type":"point","shape":"triangle-right","filled":true,"color":"#000","size":30,"opacity":1},"encoding":{"x":{"datum":0.995,"type":"quantitative","axis":null},"y":{"datum":0.5,"type":"quantitative","axis":null}}},
     {"mark":{"type":"text","fontSize":13,"dy":7.5,"baseline":"middle","color":"#000"},"encoding":{"x":{"datum":0.49,"type":"quantitative","axis":null},"y":{"datum":0.5,"type":"quantitative","axis":null},"text":{"value":"7-AAD"}}}
    ]}
  ],"spacing":3.7}
 ],"spacing":0}
],"spacing":14},
{"resolve":{"scale":{"shape":"independent","fill":"independent"},"legend":{"shape":"independent","fill":"independent"}},
 "hconcat":[
 {"width":13,"height":300,"data":{"values":[{}]},
  "layer":[
   {"mark":{"type":"text","fontSize":17,"fontWeight":"bold","align":"left","baseline":"alphabetic","color":"#000"},"encoding":{"x":{"datum":0,"type":"quantitative","scale":{"domain":[0,1],"nice":false,"zero":false},"axis":null},"y":{"datum":0.998,"type":"quantitative","scale":{"domain":[0,1],"nice":false,"zero":false},"axis":null},"text":{"value":"D"}}},
   {"mark":{"type":"text","fontSize":17,"fontWeight":"bold","align":"left","baseline":"alphabetic","color":"#000"},"encoding":{"x":{"datum":0.077,"type":"quantitative","axis":null},"y":{"datum":0.29,"type":"quantitative","axis":null},"text":{"value":"E"}}}
  ]},
 {"resolve":{"scale":{"shape":"independent","fill":"independent"},"legend":{"shape":"independent","fill":"independent"}},
  "vconcat":[
 {"width":188,"height":130.3,
  "data":{"name":"annexin"},
  "encoding":{"x":{"field":"cat","type":"nominal","scale":{"domain":["24 hours|mock","24 hours|Stau","24 hours|HePC","gap","48 hours|mock","48 hours|Stau","48 hours|HePC"],"paddingInner":0.22,"paddingOuter":0.5,"align":0.31},"axis":{"labelExpr":"indexof(datum.label, '|') > 0 ? split(datum.label, '|')[1] : ''","labelAngle":45,"labelAlign":"center","labelBaseline":"middle","labelPadding":17,"labelOffset":5,"ticks":false,"title":null,"labelFontSize":12.5}}},
  "layer":[
   {"mark":{"type":"bar","stroke":"#000","strokeWidth":1},"encoding":{"y":{"field":"v","type":"quantitative","scale":{"domain":[0,23.1],"nice":false},"axis":{"values":[0,5,10,15,20],"title":"Annexin V⁺ cells [%]","titleFontSize":11.5,"labelFontSize":12}},"fill":{"field":"treat","type":"nominal","scale":{"domain":["mock","Stau","HePC"],"range":["#fff","#000","#fff"]},"legend":null}}},
   {"transform":[{"filter":"datum.treat == 'HePC'"}],"mark":{"type":"point","size":4,"filled":false,"stroke":"#000","strokeWidth":0.8,"opacity":1},"encoding":{"y":{"field":"v","type":"quantitative"},"shape":{"field":"cat","type":"nominal","scale":{"domain":["24 hours|HePC","48 hours|HePC"],"range":[
"M6.3,0L9.4,3.1M0,0L9.4,9.4M-6.3,0L9.4,15.7M-9.4,3.1l18.8,18.8M-9.4,9.4l18.8,18.8M-9.4,15.7l18.8,18.8M-9.4,21.9l18.8,18.8M-9.4,28.2l18.8,18.8M-9.4,34.5l18.8,18.8M-9.4,40.7l18.8,18.8M-9.4,47l18.8,18.8M-9.4,53.3l18.8,18.8M-9.4,59.5l18.8,18.8M-9.4,65.8l18.8,18.8M-9.4,72.1l18.8,18.8M-9.4,78.3l17.6,17.6M-9.4,84.6l11.3,11.3M-9.4,90.9l5,5M-9.4,3.1L-6.3,0M-9.4,9.4L0,0M-9.4,15.7L6.3,0M-9.4,21.9l18.8,-18.8M-9.4,28.2l18.8,-18.8M-9.4,34.5l18.8,-18.8M-9.4,40.7l18.8,-18.8M-9.4,47l18.8,-18.8M-9.4,53.3l18.8,-18.8M-9.4,59.5l18.8,-18.8M-9.4,65.8l18.8,-18.8M-9.4,72.1l18.8,-18.8M-9.4,78.3l18.8,-18.8M-9.4,84.6l18.8,-18.8M-9.4,90.9l18.8,-18.8M-8.2,95.9L9.4,78.3M-1.9,95.9L9.4,84.6M4.4,95.9L9.4,90.9",
"M6.3,0L9.4,3.1M0,0L9.4,9.4M-6.3,0L9.4,15.7M-9.4,3.1l18.8,18.8M-9.4,9.4l18.8,18.8M-9.4,15.7l18.8,18.8M-9.4,21.9l18.8,18.8M-9.4,28.2l18.8,18.8M-9.4,34.5l18.8,18.8M-9.4,40.7l18.8,18.8M-9.4,47l18.8,18.8M-9.4,53.3l18.8,18.8M-9.4,59.5l18.8,18.8M-9.4,65.8l18.8,18.8M-9.4,72.1l18.8,18.8M-9.4,78.3l18.8,18.8M-9.4,84.6l16.5,16.5M-9.4,90.9l10.2,10.2M-9.4,97.1l4,4M-9.4,3.1L-6.3,0M-9.4,9.4L0,0M-9.4,15.7L6.3,0M-9.4,21.9l18.8,-18.8M-9.4,28.2l18.8,-18.8M-9.4,34.5l18.8,-18.8M-9.4,40.7l18.8,-18.8M-9.4,47l18.8,-18.8M-9.4,53.3l18.8,-18.8M-9.4,59.5l18.8,-18.8M-9.4,65.8l18.8,-18.8M-9.4,72.1l18.8,-18.8M-9.4,78.3l18.8,-18.8M-9.4,84.6l18.8,-18.8M-9.4,90.9l18.8,-18.8M-9.4,97.1l18.8,-18.8M-7.1,101.1L9.4,84.6M-0.8,101.1L9.4,90.9M5.4,101.1L9.4,97.1"]},"legend":null}}},
   {"mark":{"type":"rule","color":"#000","strokeWidth":1},"encoding":{"y":{"field":"lo","type":"quantitative"},"y2":{"field":"hi"}}},
   {"mark":{"type":"tick","size":8,"thickness":1,"color":"#000"},"encoding":{"y":{"field":"lo","type":"quantitative"}}},
   {"mark":{"type":"tick","size":8,"thickness":1,"color":"#000"},"encoding":{"y":{"field":"hi","type":"quantitative"}}},
   {"data":{"name":"groups"},"mark":{"type":"rule","color":"#000","strokeWidth":1,"xOffset":-11,"x2Offset":21},"encoding":{"x":{"field":"from","type":"nominal"},"x2":{"field":"to"},"y":{"datum":-7,"type":"quantitative"}}},
   {"data":{"name":"groups"},"mark":{"type":"text","fontSize":13,"baseline":"middle","color":"#000"},"encoding":{"x":{"field":"mid","type":"nominal"},"y":{"datum":-9.2,"type":"quantitative"},"text":{"field":"group"}}},
   {"data":{"name":"sigTop"},"mark":{"type":"rule","color":"#000","strokeWidth":1,"xOffset":-9,"x2Offset":-1},"encoding":{"x":{"field":"from","type":"nominal"},"x2":{"field":"to"},"y":{"datum":22.2,"type":"quantitative"}}},
   {"data":{"name":"sigTop"},"mark":{"type":"text","fontSize":15,"baseline":"alphabetic","dx":-3,"dy":3,"color":"#000"},"encoding":{"x":{"field":"mid","type":"nominal"},"y":{"datum":22.2,"type":"quantitative"},"text":{"field":"label"}}},
   {"data":{"name":"sigLow"},"mark":{"type":"rule","color":"#000","strokeWidth":1,"xOffset":-2.6,"x2Offset":0},"encoding":{"x":{"field":"from","type":"nominal"},"x2":{"field":"to"},"y":{"datum":19.6,"type":"quantitative"}}},
   {"data":{"name":"sigLow"},"mark":{"type":"text","fontSize":15,"baseline":"alphabetic","dx":-10,"dy":3,"color":"#000"},"encoding":{"x":{"field":"to","type":"nominal"},"y":{"datum":19.6,"type":"quantitative"},"text":{"field":"label"}}}
  ]},
 {"width":188,"height":72.4,
  "data":{"name":"aad"},
  "encoding":{"x":{"field":"cat","type":"nominal","scale":{"domain":["24 hours|mock","24 hours|Stau","24 hours|HePC","gap","48 hours|mock","48 hours|Stau","48 hours|HePC"],"paddingInner":0.22,"paddingOuter":0.5,"align":0.31},"axis":{"labelExpr":"indexof(datum.label, '|') > 0 ? split(datum.label, '|')[1] : ''","labelAngle":45,"labelAlign":"center","labelBaseline":"middle","labelPadding":19,"labelOffset":5,"ticks":false,"title":null,"labelFontSize":12.5}}},
  "layer":[
   {"mark":{"type":"bar","stroke":"#000","strokeWidth":1},"encoding":{"y":{"field":"v","type":"quantitative","scale":{"domain":[0,12.93],"nice":false},"axis":{"values":[0,5,10],"title":"7-AAD⁺ cells [%]","titleFontSize":11.5,"labelFontSize":12}},"fill":{"field":"treat","type":"nominal","scale":{"domain":["mock","Stau","HePC"],"range":["#fff","#000","#fff"]},"legend":null}}},
   {"transform":[{"filter":"datum.treat == 'HePC'"}],"mark":{"type":"point","size":4,"filled":false,"stroke":"#000","strokeWidth":0.8,"opacity":1},"encoding":{"y":{"field":"v","type":"quantitative"},"shape":{"field":"cat","type":"nominal","scale":{"domain":["24 hours|HePC","48 hours|HePC"],"range":[
"M6.3,0L9.4,3.1M0,0L9.4,9.4M-6.3,0L9.4,15.7M-9.4,3.1l18.8,18.8M-9.4,9.4l18.8,18.8M-9.4,15.7l18.8,18.8M-9.4,21.9l18.8,18.8M-9.4,28.2l15.5,15.5M-9.4,34.5l9.2,9.2M-9.4,40.7l3,3M-9.4,3.1L-6.3,0M-9.4,9.4L0,0M-9.4,15.7L6.3,0M-9.4,21.9l18.8,-18.8M-9.4,28.2l18.8,-18.8M-9.4,34.5l18.8,-18.8M-9.4,40.7l18.8,-18.8M-6.1,43.7L9.4,28.2M0.2,43.7L9.4,34.5M6.4,43.7L9.4,40.7",
"M6.3,0L9.4,3.1M0,0L9.4,9.4M-6.3,0L9.4,15.7M-9.4,3.1l18.8,18.8M-9.4,9.4l18.8,18.8M-9.4,15.7l18.8,18.8M-9.4,21.9l18.8,18.8M-9.4,28.2l18.8,18.8M-9.4,34.5l14.2,14.2M-9.4,40.7l8,8M-9.4,47l1.7,1.7M-9.4,3.1L-6.3,0M-9.4,9.4L0,0M-9.4,15.7L6.3,0M-9.4,21.9l18.8,-18.8M-9.4,28.2l18.8,-18.8M-9.4,34.5l18.8,-18.8M-9.4,40.7l18.8,-18.8M-9.4,47l18.8,-18.8M-4.8,48.7L9.4,34.5M1.4,48.7L9.4,40.7M7.7,48.7L9.4,47"]},"legend":null}}},
   {"mark":{"type":"rule","color":"#000","strokeWidth":1},"encoding":{"y":{"field":"lo","type":"quantitative"},"y2":{"field":"hi"}}},
   {"mark":{"type":"tick","size":8,"thickness":1,"color":"#000"},"encoding":{"y":{"field":"lo","type":"quantitative"}}},
   {"mark":{"type":"tick","size":8,"thickness":1,"color":"#000"},"encoding":{"y":{"field":"hi","type":"quantitative"}}},
   {"data":{"name":"groups"},"mark":{"type":"rule","color":"#000","strokeWidth":1,"xOffset":-11,"x2Offset":21},"encoding":{"x":{"field":"from","type":"nominal"},"x2":{"field":"to"},"y":{"datum":-7,"type":"quantitative"}}},
   {"data":{"name":"groups"},"mark":{"type":"text","fontSize":13,"baseline":"middle","color":"#000"},"encoding":{"x":{"field":"mid","type":"nominal"},"y":{"datum":-9.2,"type":"quantitative"},"text":{"field":"group"}}}
  ]}
 ],"spacing":35.3}
],"spacing":0}
],
"config":{
 "font":"Liberation Sans",
 "view":{"stroke":null},
 "axis":{"grid":false,"domainColor":"#000","domainWidth":1,"tickColor":"#000","tickSize":5,"labelColor":"#000","titleColor":"#000","labelFontSize":12.5,"titleFontSize":13,"titleFontWeight":"normal","labelPadding":2,"titlePadding":4},
 "title":{"fontSize":17,"fontWeight":"bold","anchor":"start","frame":"group","color":"#000"}
}
}
